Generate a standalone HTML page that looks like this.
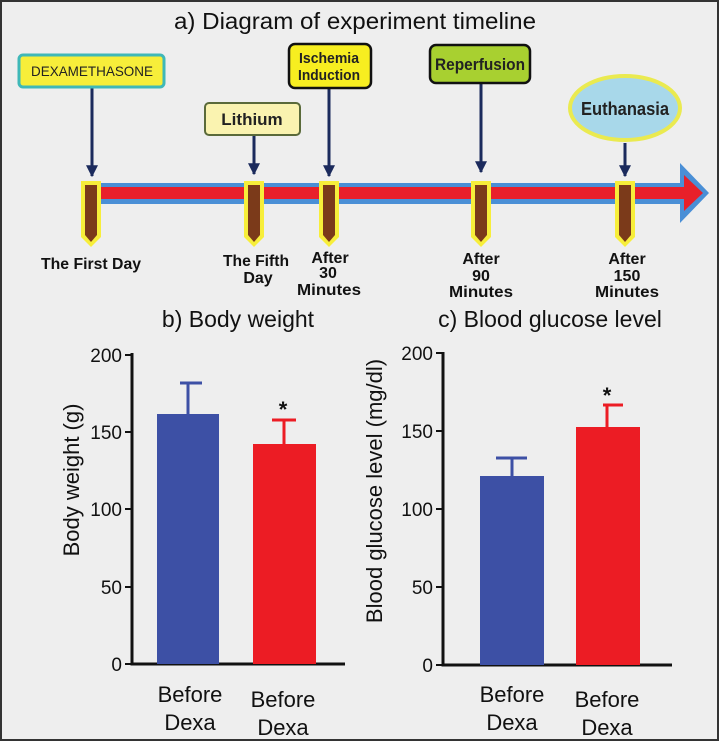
<!DOCTYPE html>
<html><head><meta charset="utf-8"><style>
body{margin:0;background:#fff}
svg{display:block}
text{font-family:"Liberation Sans",sans-serif}
.b{font-weight:bold}
</style></head><body>
<svg width="719" height="741" viewBox="0 0 719 741" xmlns="http://www.w3.org/2000/svg">
<defs>
<marker id="ah" viewBox="0 0 10 10" refX="9" refY="5" markerWidth="4" markerHeight="4" orient="auto"><path d="M0,0L10,5L0,10z" fill="#1b2a5c"/></marker>
</defs>
<rect x="0" y="0" width="719" height="741" fill="#eeeeee"/>
<rect x="1" y="1" width="717" height="739" fill="none" stroke="#333" stroke-width="2"/>
<text x="355" y="29" font-size="23" text-anchor="middle" fill="#111" textLength="362" lengthAdjust="spacingAndGlyphs">a) Diagram of experiment timeline</text>
<path d="M100,183 L680,183 L680,163 L709,193 L680,223 L680,204 L100,204 Z" fill="#4a8fd6"/>
<path d="M100,187 L684,187 L684,175 L703,193 L684,211 L684,199 L100,199 Z" fill="#e8202a"/>
<g>
<path d="M81,181h20v56l-10,10l-10,-10z" fill="#f7ee3a"/><path d="M85,185h12v50l-6,7l-6,-7z" fill="#7b3a1a"/>
<path d="M244,181h20v56l-10,10l-10,-10z" fill="#f7ee3a"/><path d="M248,185h12v50l-6,7l-6,-7z" fill="#7b3a1a"/>
<path d="M319,181h20v56l-10,10l-10,-10z" fill="#f7ee3a"/><path d="M323,185h12v50l-6,7l-6,-7z" fill="#7b3a1a"/>
<path d="M471,181h20v56l-10,10l-10,-10z" fill="#f7ee3a"/><path d="M475,185h12v50l-6,7l-6,-7z" fill="#7b3a1a"/>
<path d="M615,181h20v56l-10,10l-10,-10z" fill="#f7ee3a"/><path d="M619,185h12v50l-6,7l-6,-7z" fill="#7b3a1a"/>
</g>
<g stroke="#1b2a5c" stroke-width="3" marker-end="url(#ah)">
<line x1="92" y1="87" x2="92" y2="176"/>
<line x1="254" y1="135" x2="254" y2="174"/>
<line x1="329" y1="88" x2="329" y2="176"/>
<line x1="481" y1="83" x2="481" y2="172"/>
<line x1="625" y1="143" x2="625" y2="176"/>
</g>
<rect x="19" y="55" width="145" height="32" rx="4" fill="#f7ee3a" stroke="#3fb8b8" stroke-width="3"/>
<text x="92" y="76" font-size="14" text-anchor="middle" fill="#222" textLength="122" lengthAdjust="spacingAndGlyphs">DEXAMETHASONE</text>
<rect x="205" y="103" width="95" height="32" rx="4" fill="#faf3b0" stroke="#5a6a3a" stroke-width="2"/>
<text x="252" y="125" font-size="17" class="b" text-anchor="middle" fill="#222">Lithium</text>
<rect x="289" y="44" width="82" height="44" rx="6" fill="#f7ee20" stroke="#111" stroke-width="2.5"/>
<text x="329" y="63" font-size="15" class="b" text-anchor="middle" fill="#222" textLength="60" lengthAdjust="spacingAndGlyphs">Ischemia</text>
<text x="329" y="80" font-size="15" class="b" text-anchor="middle" fill="#222" textLength="62" lengthAdjust="spacingAndGlyphs">Induction</text>
<rect x="430" y="45" width="100" height="38" rx="6" fill="#a8d030" stroke="#111" stroke-width="2.5"/>
<text x="480" y="70" font-size="17" class="b" text-anchor="middle" fill="#222" textLength="90" lengthAdjust="spacingAndGlyphs">Reperfusion</text>
<ellipse cx="625" cy="108" rx="55" ry="32" fill="#a8d8ea" stroke="#eaea50" stroke-width="4"/>
<text x="625" y="115" font-size="18" class="b" text-anchor="middle" fill="#222" textLength="88" lengthAdjust="spacingAndGlyphs">Euthanasia</text>
<g font-size="16" text-anchor="middle" fill="#111">
<text x="91" y="269" class="b" textLength="100" lengthAdjust="spacingAndGlyphs">The First Day</text>
<text x="256" y="266" class="b" textLength="66" lengthAdjust="spacingAndGlyphs">The Fifth</text><text x="258" y="283" class="b">Day</text>
<text x="330" y="263" class="b">After</text><text x="328" y="278" class="b">30</text><text x="329" y="295" class="b" textLength="64" lengthAdjust="spacingAndGlyphs">Minutes</text>
<text x="481" y="264" class="b">After</text><text x="481" y="281" class="b">90</text><text x="481" y="297" class="b" textLength="64" lengthAdjust="spacingAndGlyphs">Minutes</text>
<text x="627" y="264" class="b">After</text><text x="627" y="281" class="b">150</text><text x="627" y="297" class="b" textLength="64" lengthAdjust="spacingAndGlyphs">Minutes</text>
</g>
<text x="238" y="327" font-size="23" text-anchor="middle" fill="#111">b) Body weight</text>
<g stroke="#111" stroke-width="3" fill="none">
<path d="M132,353V664H345"/>
<path d="M125,355h7M125,432h7M125,509h7M125,587h7M125,664h7" stroke-width="2"/>
</g>
<g font-size="19" text-anchor="end" fill="#111">
<text x="122" y="362">200</text><text x="122" y="439">150</text><text x="122" y="516">100</text><text x="122" y="594">50</text><text x="122" y="671">0</text>
</g>
<text transform="translate(79,480) rotate(-90)" font-size="22" text-anchor="middle" fill="#111">Body weight (g)</text>
<rect x="157" y="414" width="62" height="250" fill="#3d50a5"/>
<path d="M188,414V383M180,383h22" stroke="#3d50a5" stroke-width="3"/>
<rect x="253" y="444" width="63" height="220" fill="#ec1c24"/>
<path d="M284,444V420M272,420h24" stroke="#ec1c24" stroke-width="3"/>
<text x="283" y="417" font-size="22" class="b" text-anchor="middle" fill="#111">*</text>
<g font-size="22" text-anchor="middle" fill="#111">
<text x="190" y="702">Before</text><text x="190" y="730">Dexa</text>
<text x="283" y="707">Before</text><text x="283" y="735">Dexa</text>
</g>
<text x="550" y="327" font-size="23" text-anchor="middle" fill="#111">c) Blood glucose level</text>
<g stroke="#111" stroke-width="3" fill="none">
<path d="M443,352V665H672"/>
<path d="M436,353h7M436,431h7M436,509h7M436,587h7M436,665h7" stroke-width="2"/>
</g>
<g font-size="19" text-anchor="end" fill="#111">
<text x="433" y="360">200</text><text x="433" y="438">150</text><text x="433" y="516">100</text><text x="433" y="594">50</text><text x="433" y="672">0</text>
</g>
<text transform="translate(382,491) rotate(-90)" font-size="22" text-anchor="middle" fill="#111">Blood glucose level (mg/dl)</text>
<rect x="480" y="476" width="64" height="189" fill="#3d50a5"/>
<path d="M512,476V458M496,458h31" stroke="#3d50a5" stroke-width="3"/>
<rect x="576" y="427" width="64" height="238" fill="#ec1c24"/>
<path d="M607,427V405M603,405h20" stroke="#ec1c24" stroke-width="3"/>
<text x="607" y="403" font-size="22" class="b" text-anchor="middle" fill="#111">*</text>
<g font-size="22" text-anchor="middle" fill="#111">
<text x="512" y="702">Before</text><text x="512" y="730">Dexa</text>
<text x="607" y="707">Before</text><text x="607" y="735">Dexa</text>
</g>
</svg>
</body></html>
